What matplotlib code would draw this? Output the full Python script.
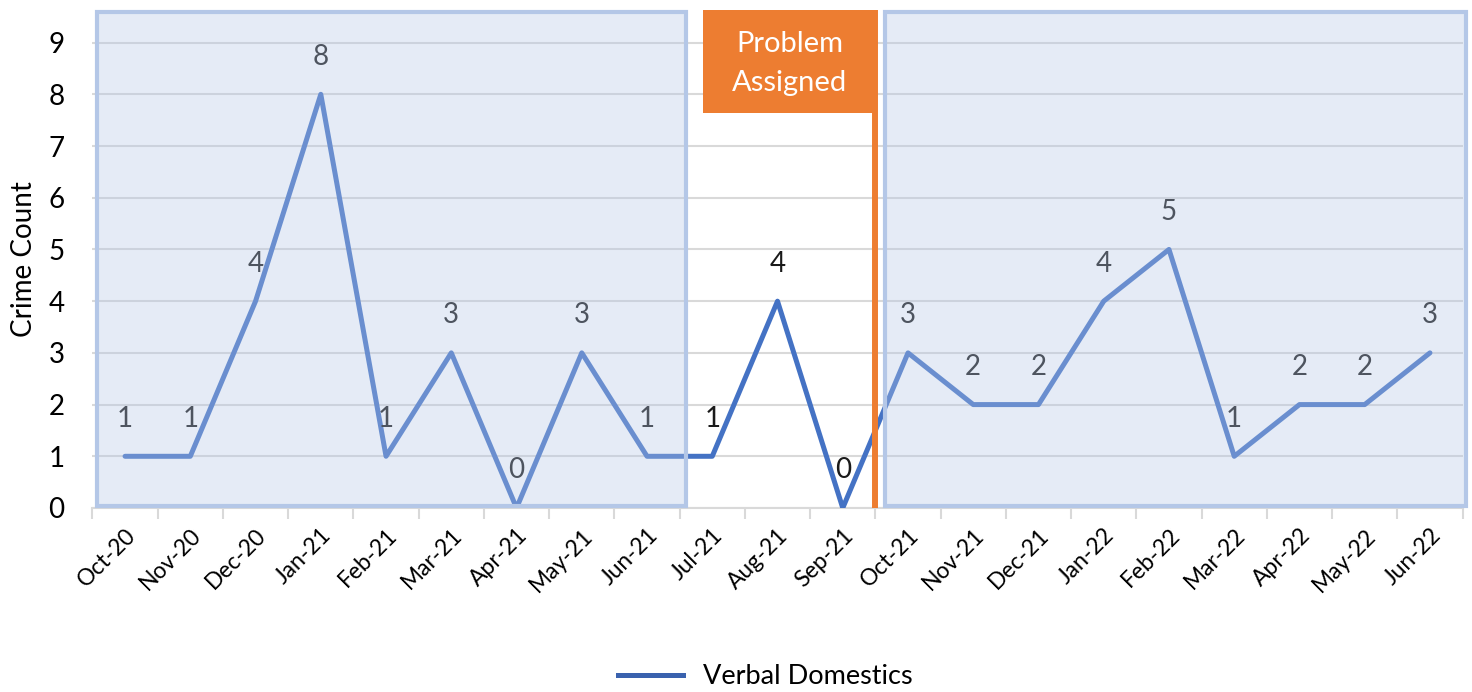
import matplotlib
matplotlib.use("Agg")
from matplotlib import pyplot as plt
from matplotlib.patches import Rectangle
from matplotlib.lines import Line2D

plt.rcParams['font.family'] = ['Lato', 'DejaVu Sans']

months = ['Oct-20', 'Nov-20', 'Dec-20', 'Jan-21', 'Feb-21', 'Mar-21', 'Apr-21',
          'May-21', 'Jun-21', 'Jul-21', 'Aug-21', 'Sep-21', 'Oct-21', 'Nov-21',
          'Dec-21', 'Jan-22', 'Feb-22', 'Mar-22', 'Apr-22', 'May-22', 'Jun-22']
counts = [1, 1, 4, 8, 1, 3, 0, 3, 1, 1, 4, 0, 3, 2, 2, 4, 5, 1, 2, 2, 3]

line_col = '#4472C4'
shade_col = '#B4C7E7'
orange = '#ED7D31'
top = 9.63

fig = plt.figure(figsize=(14.72, 6.92), dpi=100)
ax = fig.add_axes([0.0628, 0.2659, 0.9308, 0.7196])

x = list(range(len(months)))
ax.plot(x, counts, color=line_col, lw=3.6, zorder=3, solid_capstyle='round')

for xi, v in zip(x, counts):
    ax.annotate(str(v), (xi, v), xytext=(0, 27), textcoords='offset points',
                ha='center', va='center', fontsize=20, color='#1a1a1a', zorder=4)

ax.set_xlim(-0.5, len(months) - 0.5)
ax.set_ylim(0, top)
ax.set_yticks(range(10))
ax.tick_params(axis='y', labelsize=20, length=0, pad=20)
ax.yaxis.grid(True, color='#D9D9D9', lw=1.5, zorder=1)
ax.set_axisbelow(True)

ax.set_xticks(x)
ax.set_xticklabels(months, rotation=45, ha='right', rotation_mode='anchor', fontsize=16.5)
ax.tick_params(axis='x', length=0, pad=12)
ax.set_xticks([i - 0.5 for i in range(len(months) + 1)], minor=True)
ax.tick_params(axis='x', which='minor', length=8, color='#D9D9D9', width=1.5)

for s in ['top', 'right', 'left']:
    ax.spines[s].set_visible(False)
ax.spines['bottom'].set_color('#D9D9D9')
ax.spines['bottom'].set_linewidth(1.5)

ax.set_ylabel('Crime Count', fontsize=20, labelpad=8)

# shaded periods before and after the assignment
for x0, x1 in [(-0.43, 8.6), (11.65, 20.55)]:
    ax.add_patch(Rectangle((x0, 0.04), x1 - x0, top - 0.08, facecolor=shade_col,
                           alpha=0.34, edgecolor='none', zorder=5, clip_on=False))
    ax.add_patch(Rectangle((x0, 0.04), x1 - x0, top - 0.08, facecolor='none',
                           edgecolor=shade_col, lw=3, zorder=5, clip_on=False))

# problem assigned marker
ax.add_patch(Rectangle((8.86, 7.64), 11.52 - 8.86, top - 7.64, facecolor=orange,
                       edgecolor='none', zorder=6, clip_on=False))
ax.plot([11.5, 11.5], [0, top], color=orange, lw=4.3, zorder=6, clip_on=False,
        solid_capstyle='butt')
ax.text(10.19, 8.6, 'Problem\nAssigned', color='white', fontsize=21,
        ha='center', va='center', zorder=7, linespacing=1.6)

handle = Line2D([], [], color='#3A62AE', lw=3.6)
fig.legend([handle], ['Verbal Domestics'], loc='center', bbox_to_anchor=(0.52, 0.022),
           frameon=False, fontsize=19.5, handlelength=2.4, handletextpad=0.75)

fig.savefig('out.png', dpi=100)
